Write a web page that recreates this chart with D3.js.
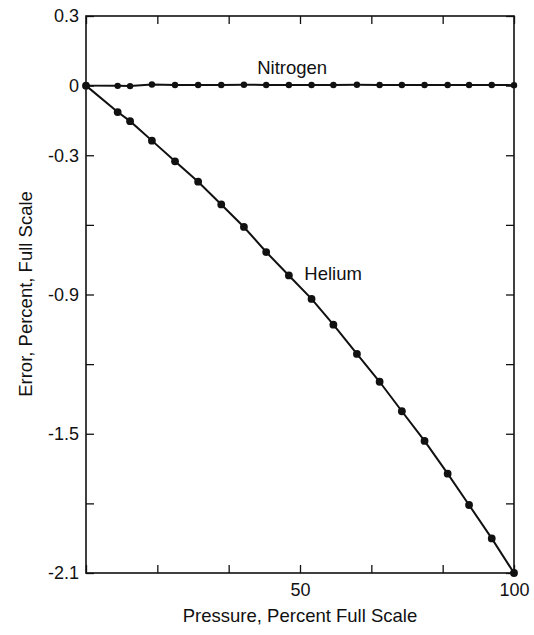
<!DOCTYPE html>
<html>
<head>
<meta charset="utf-8">
<script src="https://cdn.jsdelivr.net/npm/d3@7"></script>
<style>
  body { margin: 0; background: #fff; }
  text { font-family: "Liberation Sans", Arial, sans-serif; fill: #111; }
</style>
</head>
<body>
<div id="chart"></div>
<script>
// pressure points, percent of full scale
var pressure = [0, 7.4, 10.3, 15.4, 20.8, 26.2, 31.6, 36.9, 42.1, 47.4, 52.7, 57.8, 63.3, 68.6, 73.8, 79.1, 84.5, 89.5, 94.8, 100];
var nitrogen = [0, -0.001, -0.002, 0.005, 0.003, 0.003, 0.003, 0.004, 0.003, 0.003, 0.003, 0.003, 0.004, 0.003, 0.003, 0.003, 0.003, 0.003, 0.003, 0.002];
var helium = [0, -0.114, -0.153, -0.237, -0.326, -0.414, -0.512, -0.609, -0.717, -0.818, -0.919, -1.030, -1.156, -1.276, -1.403, -1.531, -1.672, -1.807, -1.951, -2.1];

var yTicks = [0.3, 0, -0.3, -0.6, -0.9, -1.2, -1.5, -1.8, -2.1];
var yTickLabels = ["0.3", "0", "-0.3", "", "-0.9", "", "-1.5", "", "-2.1"];
var xTicks = [0, 100/6, 200/6, 50, 400/6, 500/6, 100];
var xTickLabels = ["", "", "", "50", "", "", "100"];

var W = 534, H = 635;
var margin = {top: 16, right: 20, bottom: 62, left: 86};

var svg = d3.select("#chart").append("svg")
    .attr("width", W)
    .attr("height", H);

var x = d3.scaleLinear().domain([0, 100]).range([margin.left, W - margin.right]);
var y = d3.scaleLinear().domain([-2.1, 0.3]).range([H - margin.bottom, margin.top]);

// axes, ticks pointing inward
function styleAxis(g) {
  g.select(".domain").remove();
  g.selectAll(".tick line").attr("stroke", "#111").attr("stroke-width", 1.3);
  g.selectAll(".tick text").style("font-size", "18px").attr("fill", "#111");
}

svg.append("g")
    .attr("transform", "translate(" + margin.left + ",0)")
    .call(d3.axisLeft(y).tickValues(yTicks).tickSize(-8).tickPadding(7)
      .tickFormat(function(d, i) { return yTickLabels[i]; }))
    .call(styleAxis);

svg.append("g")
    .attr("transform", "translate(" + (W - margin.right) + ",0)")
    .call(d3.axisRight(y).tickValues(yTicks).tickSize(-8).tickFormat(""))
    .call(styleAxis);

svg.append("g")
    .attr("transform", "translate(0," + (H - margin.bottom) + ")")
    .call(d3.axisBottom(x).tickValues(xTicks).tickSize(-8).tickPadding(10)
      .tickFormat(function(d, i) { return xTickLabels[i]; }))
    .call(styleAxis);

svg.append("g")
    .attr("transform", "translate(0," + margin.top + ")")
    .call(d3.axisTop(x).tickValues(xTicks).tickSize(-8).tickFormat(""))
    .call(styleAxis);

// frame
svg.append("rect")
    .attr("x", x(0))
    .attr("y", y(0.3))
    .attr("width", x(100) - x(0))
    .attr("height", y(-2.1) - y(0.3))
    .attr("fill", "none")
    .attr("stroke", "#111")
    .attr("stroke-width", 1.6);

// series
var series = [
  {name: "Nitrogen", values: nitrogen, r: 3.2},
  {name: "Helium", values: helium, r: 3.9}
];

var line = d3.line()
    .x(function(d) { return x(d[0]); })
    .y(function(d) { return y(d[1]); });

series.forEach(function(s) {
  var pts = pressure.map(function(p, i) { return [p, s.values[i]]; });
  svg.append("path")
      .datum(pts)
      .attr("d", line)
      .attr("fill", "none")
      .attr("stroke", "#111")
      .attr("stroke-width", 2);
  svg.selectAll(null)
      .data(pts)
      .enter()
      .append("circle")
      .attr("cx", function(d) { return x(d[0]); })
      .attr("cy", function(d) { return y(d[1]); })
      .attr("r", s.r)
      .attr("fill", "#111");
});

// series labels
svg.append("text")
    .attr("x", x(40))
    .attr("y", y(0.05))
    .style("font-size", "18.5px")
    .text("Nitrogen");

svg.append("text")
    .attr("x", x(51))
    .attr("y", y(-0.838))
    .style("font-size", "18.5px")
    .text("Helium");

// axis titles
svg.append("text")
    .attr("x", x(50))
    .attr("y", 622)
    .attr("text-anchor", "middle")
    .style("font-size", "18.5px")
    .text("Pressure, Percent Full Scale");

svg.append("text")
    .attr("transform", "translate(32," + 294 + ") rotate(-90)")
    .attr("text-anchor", "middle")
    .style("font-size", "18.5px")
    .text("Error, Percent, Full Scale");
</script>
</body>
</html>
